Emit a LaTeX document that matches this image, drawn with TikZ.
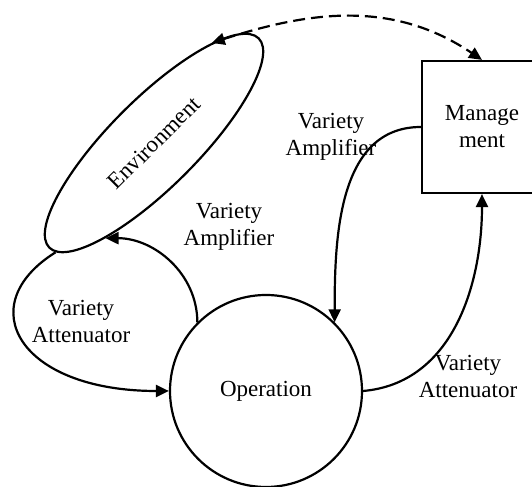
\documentclass[tikz,border=0pt]{standalone}
\usepackage{fontspec}
\setmainfont{Liberation Serif}
\usepackage{tikz}
\usetikzlibrary{arrows.meta, shapes.geometric}

\begin{document}
\begin{tikzpicture}[
    x=0.5pt, y=0.5pt,
    font=\fontsize{11.5}{13.5}\selectfont,
    part/.style={draw, line width=1.1pt, inner sep=0pt, align=center},
    flow/.style={-{Triangle[length=6.5pt, width=6pt]}, line width=1.1pt},
    link/.style={{Triangle[length=6.5pt, width=6pt]}-{Triangle[length=6.5pt, width=6pt]},
        line width=1.1pt, dash pattern=on 6pt off 3pt},
    lbl/.style={align=center}
]
\useasboundingbox (0, 0) rectangle (532, 487);

% ===== Die drei Teilsysteme =====
\node[part, ellipse, minimum width=148pt, minimum height=44pt, rotate=45]
    (env) at (154, 344) {Environment};
\node[part, circle, minimum size=96pt] (op) at (266, 96) {Operation};
\node[part, rectangle, minimum width=60pt, minimum height=66pt]
    (mgmt) at (482, 360) {Manage\\ment};

% ===== Kopplungen =====
% Operation <-> Umwelt
\draw[flow] (op.135) to[out=90, in=0] (env.198);
\draw[flow] (env.183) .. controls +(-85, -53) and +(-150, 0) .. (op.west);

% Management <-> Operation
\draw[flow] (mgmt.west) to[out=180, in=90] (op.45);
\draw[flow] (op.east) to[out=5, in=-90] (mgmt.south);

% Management <-> Umwelt
\draw[link] (env.15) to[out=18, in=146] (mgmt.north);

% ===== Beschriftungen =====
\node[lbl] (ampenv) at (229, 260) {Variety\\Amplifier};
\node[lbl] (ampop) at (331, 350) {Variety\\Amplifier};
\node[lbl] (attenv) at (81, 165) {Variety\\Attenuator};
\node[lbl] (attop) at (468, 110) {Variety\\Attenuator};

\end{tikzpicture}
\end{document}
